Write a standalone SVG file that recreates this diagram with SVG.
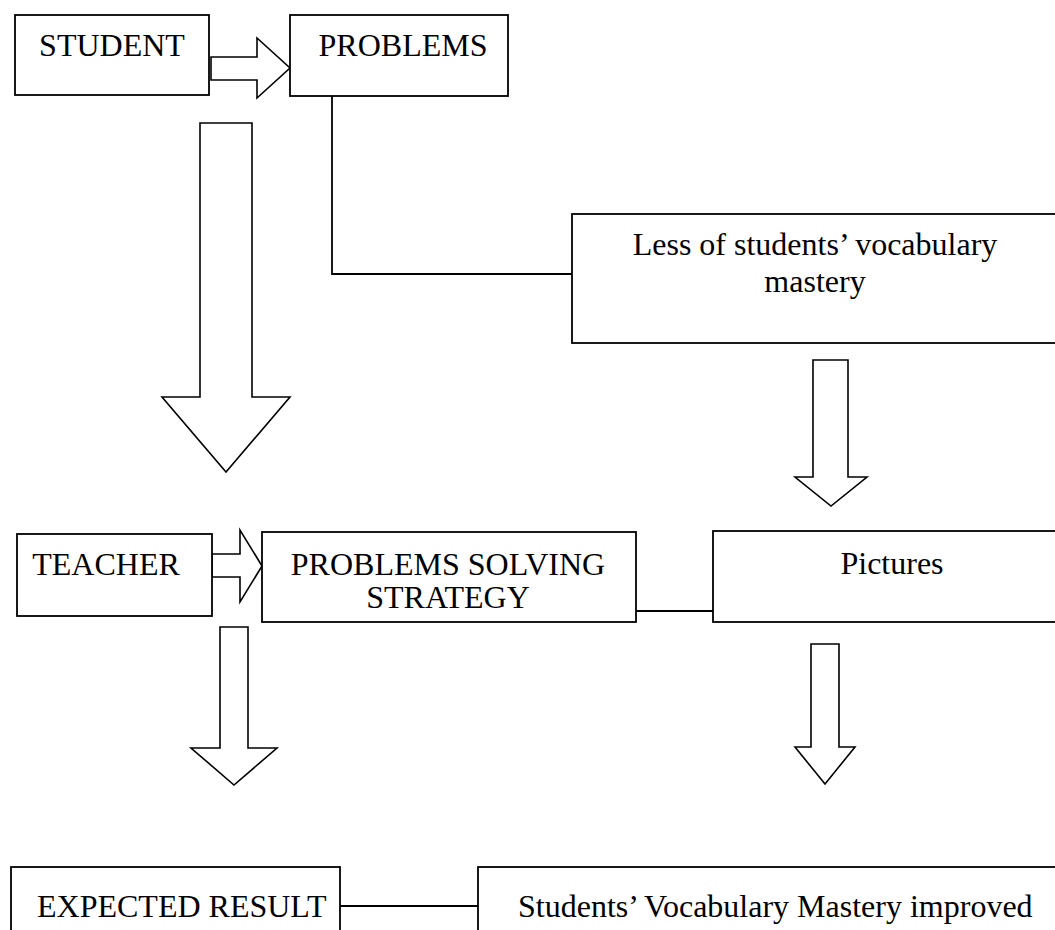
<svg xmlns="http://www.w3.org/2000/svg" width="1055" height="930" viewBox="0 0 1055 930">
  <style>
    .box { fill: #ffffff; stroke: #000000; stroke-width: 1.8; }
    .arrow { fill: #ffffff; stroke: #000000; stroke-width: 1.6; stroke-linejoin: miter; }
    .line { fill: none; stroke: #000000; stroke-width: 1.8; }
    .t { font-family: "Liberation Serif", "Times New Roman", serif; font-size: 32px; fill: #000000; }
    .c { text-anchor: middle; }
  </style>
  <rect x="0" y="0" width="1055" height="930" fill="#ffffff"/>
  <g id="connectors">
    <polyline class="line" points="332,96 332,274 572,274"/>
    <line class="line" x1="636" y1="611" x2="713" y2="611"/>
    <line class="line" x1="340" y1="906" x2="478" y2="906"/>
    <polygon class="arrow" points="211,57 257,57 257,38 290,68 257,98 257,80 211,80"/>
    <polygon class="arrow" points="200,123 252,123 252,397 290,397 226,472 162,397 200,397"/>
    <polygon class="arrow" points="813,360 848,360 848,477 867,477 831,506 795,477 813,477"/>
    <polygon class="arrow" points="212,554 240,554 240,530 262,566 240,602 240,577 212,577"/>
    <polygon class="arrow" points="220,627 248,627 248,748 277,748 234,785 191,748 220,748"/>
    <polygon class="arrow" points="811,644 839,644 839,747 855,747 825,784 795,747 811,747"/>
  </g>
  <g id="student">
    <rect class="box" x="15" y="15" width="194" height="80"/>
    <text class="t c" x="112" y="56">STUDENT</text>
  </g>
  <g id="problems">
    <rect class="box" x="290" y="15" width="218" height="81"/>
    <text class="t c" x="403" y="56">PROBLEMS</text>
  </g>
  <g id="less-vocabulary">
    <rect class="box" x="572" y="214" width="500" height="129"/>
    <text class="t c" x="815" y="255">Less of students’ vocabulary</text>
    <text class="t c" x="815" y="292">mastery</text>
  </g>
  <g id="teacher">
    <rect class="box" x="17" y="534" width="195" height="82"/>
    <text class="t c" x="106" y="575">TEACHER</text>
  </g>
  <g id="strategy">
    <rect class="box" x="262" y="532" width="374" height="90"/>
    <text class="t c" x="448" y="575">PROBLEMS SOLVING</text>
    <text class="t c" x="448" y="608">STRATEGY</text>
  </g>
  <g id="pictures">
    <rect class="box" x="713" y="531" width="360" height="91"/>
    <text class="t c" x="892" y="574">Pictures</text>
  </g>
  <g id="expected-result">
    <rect class="box" x="11" y="867" width="329" height="90"/>
    <text class="t" x="37" y="917">EXPECTED RESULT</text>
  </g>
  <g id="improved">
    <rect class="box" x="478" y="867" width="600" height="90"/>
    <text class="t" x="518" y="917">Students’ Vocabulary Mastery improved</text>
  </g>
</svg>
